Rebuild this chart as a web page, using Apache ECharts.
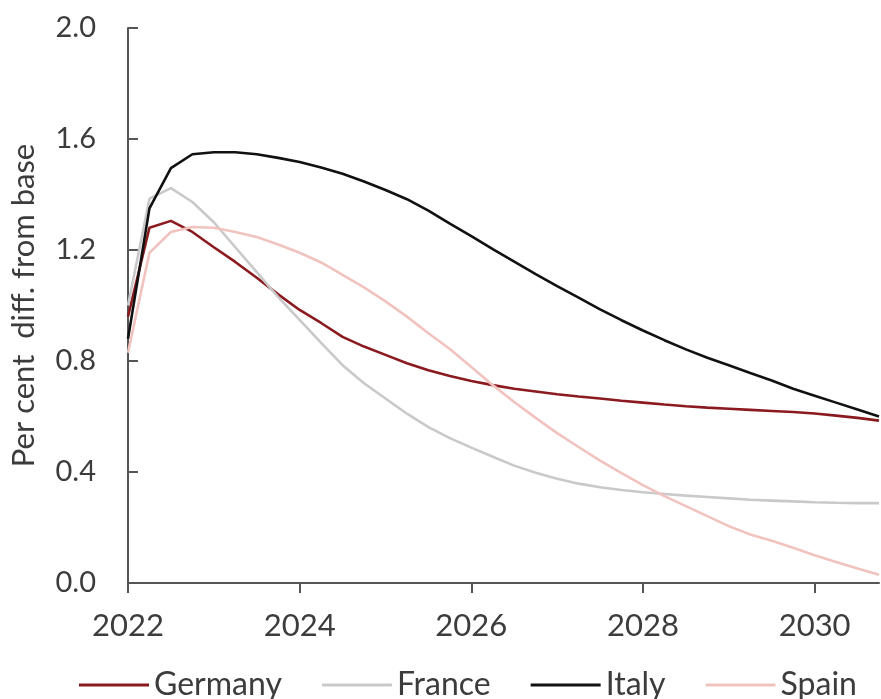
<!DOCTYPE html>
<html>
<head>
<meta charset="utf-8">
<script src="https://cdn.jsdelivr.net/npm/echarts@6/dist/echarts.min.js"></script>
<style>
  html, body { margin: 0; padding: 0; background: #fff; }
  #chart { width: 881px; height: 699px; }
</style>
</head>
<body>
<div id="chart"></div>
<script>
// Quarterly periods, 2022 Q1 to 2030 Q4 (expressed as decimal years)
const periods = [];
for (let k = 0; k < 36; k++) periods.push(2022 + k / 4);

const xTicks = [2022, 2024, 2026, 2028, 2030];

// Per cent difference from base, by country
const germany = [0.96, 1.28, 1.305, 1.265, 1.21, 1.157, 1.10, 1.04, 0.984, 0.937, 0.887, 0.852,
  0.822, 0.792, 0.767, 0.746, 0.728, 0.713, 0.70, 0.69, 0.68, 0.672, 0.665, 0.657,
  0.65, 0.643, 0.637, 0.632, 0.628, 0.624, 0.62, 0.616, 0.611, 0.603, 0.595, 0.585];

const france = [1.0, 1.385, 1.423, 1.373, 1.30, 1.21, 1.12, 1.03, 0.948, 0.865, 0.785, 0.72,
  0.665, 0.61, 0.562, 0.522, 0.488, 0.455, 0.423, 0.397, 0.376, 0.358, 0.345, 0.335,
  0.327, 0.321, 0.315, 0.31, 0.305, 0.30, 0.297, 0.294, 0.291, 0.289, 0.288, 0.288];

const italy = [0.88, 1.35, 1.495, 1.545, 1.552, 1.552, 1.545, 1.532, 1.517, 1.497, 1.475, 1.447,
  1.416, 1.383, 1.342, 1.295, 1.25, 1.203, 1.158, 1.113, 1.07, 1.028, 0.986, 0.947,
  0.91, 0.875, 0.842, 0.812, 0.785, 0.757, 0.73, 0.70, 0.675, 0.65, 0.625, 0.60];

const spain = [0.83, 1.19, 1.265, 1.283, 1.28, 1.265, 1.247, 1.22, 1.19, 1.155, 1.11, 1.065,
  1.015, 0.96, 0.90, 0.843, 0.778, 0.713, 0.652, 0.595, 0.54, 0.49, 0.441, 0.396,
  0.353, 0.313, 0.277, 0.241, 0.205, 0.175, 0.152, 0.127, 0.10, 0.076, 0.052, 0.03];

const seriesDefs = [
  { name: 'Germany', data: germany, color: '#8b1a1f' },
  { name: 'France', data: france, color: '#c9c9c9' },
  { name: 'Italy', data: italy, color: '#111111' },
  { name: 'Spain', data: spain, color: '#f1c3bf' }
];

const textColor = '#3c3c3c';
const axisColor = '#555555';
const font = 'Lato';

const chart = echarts.init(document.getElementById('chart'), null, { renderer: 'canvas' });

chart.setOption({
  animation: false,
  backgroundColor: '#ffffff',
  grid: { left: 127, right: 2, top: 28, bottom: 116 },
  legend: {
    left: 79,
    top: 669,
    padding: 0,
    itemWidth: 70,
    itemHeight: 3,
    itemGap: 40,
    icon: 'rect',
    textStyle: { fontFamily: font, fontSize: 32, color: textColor },
    data: seriesDefs.map(s => s.name)
  },
  xAxis: {
    type: 'value',
    min: 2022,
    max: 2030.75,
    splitLine: { show: false },
    axisLine: { lineStyle: { color: axisColor, width: 2 } },
    axisTick: { show: true, inside: false, length: 10, lineStyle: { color: axisColor, width: 2 }, customValues: xTicks },
    axisLabel: {
      customValues: xTicks,
      margin: 27,
      fontFamily: font,
      fontSize: 31,
      color: textColor,
      formatter: v => String(Math.round(v))
    }
  },
  yAxis: {
    type: 'value',
    min: 0,
    max: 2,
    interval: 0.4,
    name: 'Per cent  diff. from base',
    nameLocation: 'middle',
    nameGap: 89,
    nameTextStyle: { fontFamily: font, fontSize: 31, color: textColor },
    splitLine: { show: false },
    axisLine: { show: true, lineStyle: { color: axisColor, width: 2 } },
    axisTick: { show: true, inside: true, length: 10, lineStyle: { color: axisColor, width: 2 } },
    axisLabel: {
      margin: 32,
      fontFamily: font,
      fontSize: 29,
      color: textColor,
      formatter: v => v.toFixed(1)
    }
  },
  series: seriesDefs.map(s => ({
    name: s.name,
    type: 'line',
    data: periods.map((p, i) => [p, s.data[i]]),
    showSymbol: false,
    symbol: 'none',
    lineStyle: { color: s.color, width: 2.6 },
    itemStyle: { color: s.color },
    emphasis: { disabled: true }
  }))
});
</script>
</body>
</html>
